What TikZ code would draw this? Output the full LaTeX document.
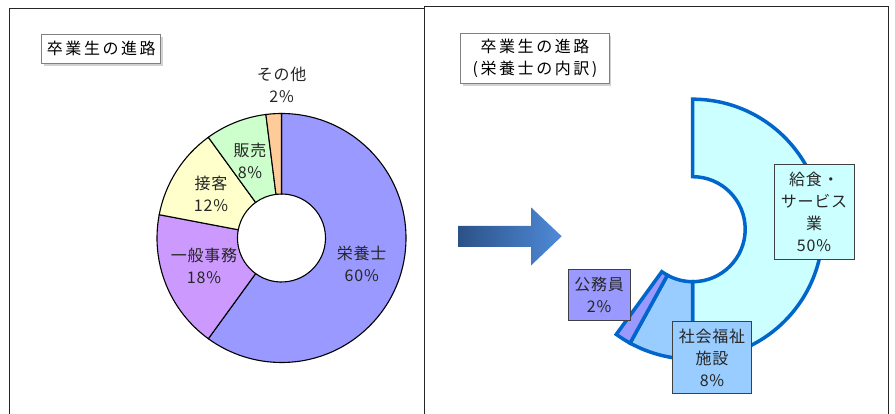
\documentclass[tikz,border=0pt]{standalone}
\usepackage{fontspec}
\setmainfont{Noto Sans CJK JP}[LetterSpace=5]
\newfontfamily\titlefont{Noto Sans CJK JP}[LetterSpace=16]
\usetikzlibrary{shadows}
\definecolor{eiyou}{HTML}{9999FF}
\definecolor{jimu}{HTML}{CC99FF}
\definecolor{sekkyaku}{HTML}{FFFFCC}
\definecolor{hanbai}{HTML}{CCFFCC}
\definecolor{sonota}{HTML}{FFCC99}
\definecolor{kyushoku}{HTML}{CCFFFF}
\definecolor{fukushi}{HTML}{99CCFF}
\definecolor{koumu}{HTML}{9999FF}
\definecolor{ringblue}{HTML}{0066CC}
\definecolor{arrowL}{HTML}{2B5287}
\definecolor{arrowR}{HTML}{4F8AD8}
\begin{document}
\begin{tikzpicture}[x=1pt,y=-1pt,
  titlebox/.style={draw=black!50,line width=1.2pt,fill=white,align=center,inner sep=0pt,
    font=\titlefont,drop shadow={shadow xshift=2pt,shadow yshift=-2.5pt,fill=black!35}},
  labelbox/.style={draw=black!75,line width=0.8pt,align=center,inner sep=0pt,text=black!85},
  txt/.style={align=center,text=black!85}]
  \useasboundingbox (0,0) rectangle (895,414);
  \fontsize{16}{22}\selectfont
  % frames
  \draw[line width=1pt,black!85] (9,414) -- (9,8.3) -- (424.3,8.3);
  \draw[line width=1pt,black!85] (424.3,414) -- (424.3,7) -- (888.3,7) -- (888.3,414);
  % left ring
  \begin{scope}[shift={(281.5,238)},yscale=-1]
    \foreach \a/\b/\c in {90/-126/eiyou,-126/-190.8/jimu,-190.8/-234/sekkyaku,-234/-262.8/hanbai,-262.8/-270/sonota}
      \filldraw[fill=\c,draw=black,line width=1.1pt] (\a:124.5) arc[start angle=\a,end angle=\b,radius=124.5]
        -- (\b:44) arc[start angle=\b,end angle=\a,radius=44] -- cycle;
  \end{scope}
  % right ring
  \begin{scope}[shift={(692.7,229.2)},yscale=-1]
    \foreach \a/\b/\c in {90/-90/kyushoku,-90/-118.8/fukushi,-118.8/-126/koumu}
      \filldraw[fill=\c,draw=ringblue,line width=3.5pt] (\a:130) arc[start angle=\a,end angle=\b,radius=130]
        -- (\b:52.5) arc[start angle=\b,end angle=\a,radius=52.5] -- cycle;
  \end{scope}
  % arrow
  \shade[left color=arrowL,right color=arrowR] (458.3,226) -- (531,226) -- (531,207.3) -- (561.7,236.3)
    -- (531,265.5) -- (531,247) -- (458.3,247) -- cycle;
  % titles
  \node[titlebox,minimum width=119,minimum height=29] (title1) at (101.3,48.8) {卒業生の進路};
  \node[titlebox,minimum width=148.6,minimum height=50] (title2) at (535,58.3) {卒業生の進路\\(栄養士の内訳)};
  % labels
  \node[txt] (eiyou) at (361.7,264) {栄養士\\60\%};
  \node[txt] (jimu) at (204,265.5) {一般事務\\18\%};
  \node[txt] (sekkyaku) at (211,194) {接客\\12\%};
  \node[txt] (hanbai) at (250,161) {販売\\8\%};
  \node[txt] (sonota) at (281.7,85) {その他\\2\%};
  \node[labelbox,fill=kyushoku,minimum width=80,minimum height=95] (kyushoku) at (814,211.8) {給食・\\サービス\\業\\50\%};
  \node[labelbox,fill=koumu,minimum width=61.7,minimum height=50.7] (koumu) at (599.2,294.7) {公務員\\2\%};
  \node[labelbox,fill=fukushi,minimum width=79.4,minimum height=71.7] (fukushi) at (712,357.5) {社会福祉\\施設\\8\%};
\end{tikzpicture}
\end{document}
